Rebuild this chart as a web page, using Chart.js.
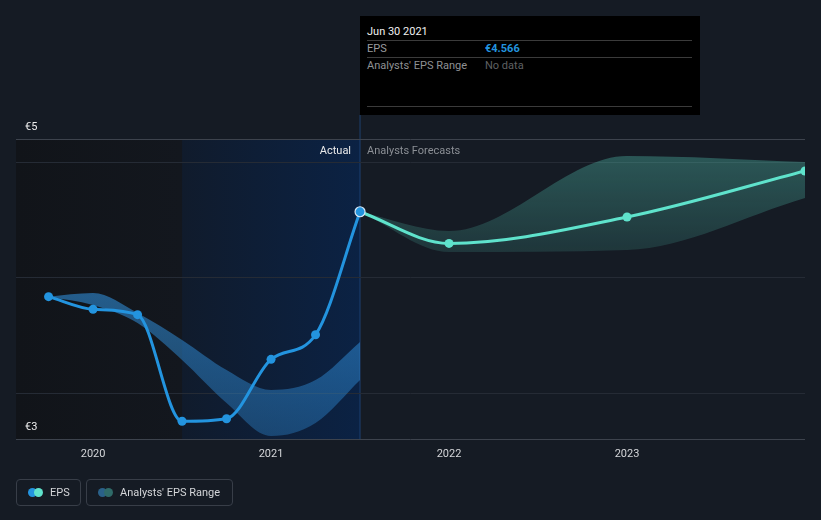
<!DOCTYPE html>
<html>
<head>
<meta charset="utf-8">
<script src="https://cdn.jsdelivr.net/npm/chart.js@4/dist/chart.umd.min.js"></script>
<style>
html,body{margin:0;padding:0;background:#151b24;}
#wrap{position:relative;width:821px;height:520px;overflow:hidden;font-family:Roboto,"Open Sans",sans-serif;font-size:11px;}
#c{position:absolute;left:0;top:0;}
.tip{position:absolute;left:360px;top:16px;width:340px;height:99px;background:#000;}
.tip span{position:absolute;white-space:nowrap;line-height:13px;}
.tip .rule{position:absolute;left:7px;width:325px;height:1px;background:#3b3b3b;}
.leg{position:absolute;top:479px;height:25px;border:1px solid #383e48;border-radius:4px;box-sizing:content-box;}
.leg span{position:absolute;top:6px;line-height:13px;color:#d4d6d9;white-space:nowrap;}
.dot{position:absolute;top:8px;width:9px;height:9px;border-radius:50%;}
</style>
</head>
<body>
<div id="wrap">
<canvas id="c" width="821" height="520"></canvas>
<div class="tip">
  <span style="left:7px;top:9px;color:#f0f0f0;">Jun 30 2021</span>
  <div class="rule" style="top:24px;"></div>
  <span style="left:7px;top:26px;color:#9a9c9f;">EPS</span>
  <span style="left:125px;top:26px;color:#2394df;font-weight:bold;">€4.566</span>
  <div class="rule" style="top:41px;"></div>
  <span style="left:7px;top:43px;color:#8f9194;">Analysts' EPS Range</span>
  <span style="left:125px;top:43px;color:#5f6163;">No data</span>
  <div class="rule" style="top:90px;"></div>
</div>
<div class="leg" style="left:16px;width:63px;">
  <div class="dot" style="left:11px;background:#2394df;"></div>
  <div class="dot" style="left:17px;background:#5fe3cc;"></div>
  <span style="left:33px;">EPS</span>
</div>
<div class="leg" style="left:86px;width:145px;">
  <div class="dot" style="left:11px;background:#2a6189;"></div>
  <div class="dot" style="left:17px;background:#2f6b69;"></div>
  <span style="left:33px;">Analysts' EPS Range</span>
</div>
</div>
<script>
// ---- data (dates as decimal years) ----
const actualDates   = [2019.75, 2020.0, 2020.25, 2020.5, 2020.75, 2021.0, 2021.25, 2021.5];
const epsActual     = [3.949, 3.865, 3.829, 3.118, 3.135, 3.531, 3.695, 4.515];
const pastRangeHigh = [3.949, 3.973, 3.84, 3.66, 3.46, 3.327, 3.393, 3.647];
const pastRangeLow  = [3.949, 3.893, 3.773, 3.527, 3.24, 3.02, 3.107, 3.393];
const forecastDates = [2021.5, 2022.0, 2023.0, 2024.0];
const epsForecast   = [4.515, 4.304, 4.48, 4.787];
const forecastHigh  = [4.515, 4.387, 4.887, 4.847];
const forecastLow   = [4.515, 4.247, 4.26, 4.607];
const yearTicks     = [2020, 2021, 2022, 2023];
const yGridValues   = [3, 3.305, 4.078, 4.845, 5];
const yLabelValues  = [3, 5];
const xRange        = [2019.567, 2024.0];
const pastYearStart = 2020.5;
const lastActual    = 2021.5;

const pts = (xs, ys) => xs.map((x, i) => ({x: x, y: ys[i]}));
const FONT = {family: 'Roboto', size: 11};

function vGrad(chart, v0, c0, v1, c1) {
  const y = chart.scales.y;
  if (!chart.chartArea || !y) return c0;
  const p0 = y.getPixelForValue(v0), p1 = y.getPixelForValue(v1);
  if (!isFinite(p0) || !isFinite(p1)) return c0;
  const g = chart.ctx.createLinearGradient(0, p0, 0, p1);
  g.addColorStop(0, c0);
  g.addColorStop(1, c1);
  return g;
}

const regionPlugin = {
  id: 'regions',
  beforeDraw(chart) {
    const {ctx, chartArea: a, scales: {x}} = chart;
    const x1 = x.getPixelForValue(pastYearStart), x2 = x.getPixelForValue(lastActual);
    ctx.save();
    let g = ctx.createLinearGradient(a.left, 0, x1, 0);
    g.addColorStop(0, '#111419'); g.addColorStop(1, '#13171e');
    ctx.fillStyle = g;
    ctx.fillRect(a.left, a.top, x1 - a.left, a.bottom - a.top);
    g = ctx.createLinearGradient(x1, 0, x2, 0);
    g.addColorStop(0, '#101b2c'); g.addColorStop(1, '#0b2244');
    ctx.fillStyle = g;
    ctx.fillRect(x1, a.top, x2 - x1, a.bottom - a.top);
    ctx.strokeStyle = 'rgba(32,72,125,0.55)';
    ctx.lineWidth = 1.5;
    ctx.beginPath(); ctx.moveTo(x2, 115); ctx.lineTo(x2, a.bottom); ctx.stroke();
    ctx.restore();
  },
  afterDatasetsDraw(chart) {
    const {ctx, chartArea: a, scales: {x}} = chart;
    const x2 = x.getPixelForValue(lastActual);
    ctx.save();
    ctx.font = '11px Roboto';
    ctx.textBaseline = 'middle';
    ctx.textAlign = 'right';
    ctx.fillStyle = '#eaeaea';
    ctx.fillText('Actual', x2 - 9, a.top + 12);
    ctx.textAlign = 'left';
    ctx.fillStyle = '#8b8f95';
    ctx.fillText('Analysts Forecasts', x2 + 7, a.top + 12);
    ctx.restore();
  }
};

const lastIdx = actualDates.length - 1;

new Chart(document.getElementById('c'), {
  type: 'line',
  data: {
    datasets: [
      {
        label: 'EPS',
        data: pts(actualDates, epsActual),
        borderColor: '#2394df',
        borderWidth: 3,
        cubicInterpolationMode: 'monotone',
        pointRadius: c => c.dataIndex === lastIdx ? 5 : 4.5,
        pointBackgroundColor: '#2394df',
        pointBorderColor: c => c.dataIndex === lastIdx ? '#d8e8f6' : '#2394df',
        pointBorderWidth: c => c.dataIndex === lastIdx ? 1.2 : 0,
        fill: false
      },
      {
        label: 'EPS forecast',
        data: pts(forecastDates, epsForecast),
        borderColor: '#5fe3cc',
        borderWidth: 3,
        cubicInterpolationMode: 'monotone',
        pointRadius: c => c.dataIndex === 0 ? 0 : 4.5,
        pointBackgroundColor: '#5fe3cc',
        pointBorderWidth: 0,
        fill: false
      },
      {
        label: 'Range high',
        data: pts(actualDates, pastRangeHigh),
        borderWidth: 0,
        pointRadius: 0,
        cubicInterpolationMode: 'monotone',
        fill: '+1',
        backgroundColor: c => vGrad(c.chart, 3.95, 'rgba(50,150,230,0.55)', 3.0, 'rgba(50,150,230,0.33)')
      },
      {
        label: 'Range low',
        data: pts(actualDates, pastRangeLow),
        borderWidth: 0,
        pointRadius: 0,
        cubicInterpolationMode: 'monotone',
        fill: false
      },
      {
        label: 'Forecast high',
        data: pts(forecastDates, forecastHigh),
        borderWidth: 0,
        pointRadius: 0,
        cubicInterpolationMode: 'monotone',
        fill: '+1',
        backgroundColor: c => vGrad(c.chart, 4.9, 'rgba(95,227,204,0.30)', 4.22, 'rgba(95,227,204,0.13)')
      },
      {
        label: 'Forecast low',
        data: pts(forecastDates, forecastLow),
        borderWidth: 0,
        pointRadius: 0,
        cubicInterpolationMode: 'monotone',
        fill: false
      }
    ]
  },
  options: {
    responsive: false,
    animation: false,
    devicePixelRatio: 1,
    layout: {padding: {top: 139, left: 7, right: 16, bottom: 51}},
    plugins: {legend: {display: false}, tooltip: {enabled: false}},
    scales: {
      x: {
        type: 'linear',
        min: xRange[0],
        max: xRange[1],
        afterBuildTicks: s => { s.ticks = yearTicks.map(v => ({value: v})); },
        afterFit: s => { s.height = 30; },
        ticks: {
          color: '#d4d6d9', font: FONT, padding: 1, autoSkip: false, maxRotation: 0,
          callback: v => String(v)
        },
        grid: {display: false},
        border: {display: false}
      },
      y: {
        type: 'linear',
        min: 3,
        max: 5,
        afterBuildTicks: s => { s.ticks = yGridValues.map(v => ({value: v})); },
        afterFit: s => { s.width = 9; },
        ticks: {
          mirror: true, padding: 9, labelOffset: -12, color: '#ececec', font: FONT,
          callback: v => yLabelValues.includes(v) ? '€' + v : ''
        },
        grid: {
          drawTicks: false,
          color: c => (c.tick && yLabelValues.includes(c.tick.value)) ? '#3d434d' : '#252b35'
        },
        border: {display: false}
      }
    }
  },
  plugins: [regionPlugin]
});
</script>
</body>
</html>
